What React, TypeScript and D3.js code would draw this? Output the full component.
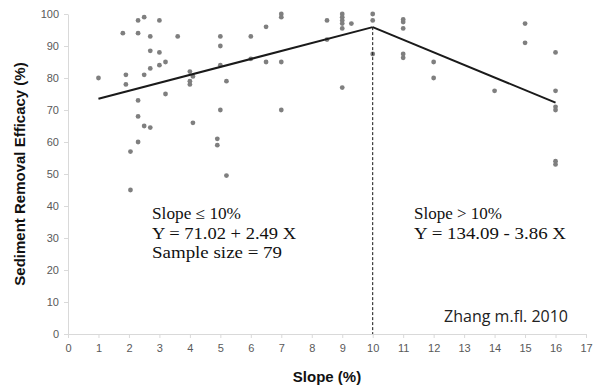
import React, { useEffect, useRef } from "react";
import * as d3 from "d3";

// Observed sites: slope (%) and sediment removal efficacy (%)
const slopes = [
  1, 1.8, 1.9, 1.9, 2.05, 2.05, 2.3, 2.3, 2.3, 2.3, 2.3, 2.5, 2.5, 2.5, 2.7, 2.7, 2.7, 2.7,
  3, 3, 3, 3.2, 3.2, 3.6, 4, 4, 4, 4.1, 4.1, 4.9, 4.9, 5, 5, 5, 5, 5.2, 5.2,
  6, 6, 6.5, 6.5, 7, 7, 7, 7, 8.5, 8.5, 9, 9, 9, 9, 9, 9, 9.3,
  10, 10, 10, 11, 11, 11, 11, 11, 12, 12, 14, 15, 15, 16, 16, 16, 16, 16, 16,
];
const efficacy = [
  80, 94, 81, 78, 57, 45, 98, 94, 73, 68, 60, 99, 81, 65, 93, 88.5, 83, 64.5,
  98, 88, 84, 85, 75, 93, 82, 79, 78, 80.5, 66, 61, 59, 93, 90, 84, 70, 79, 49.5,
  93, 86, 96, 85, 100, 99, 85, 70, 98, 92, 100, 99, 98, 97, 95.5, 77, 97,
  100, 98, 87.5, 98.3, 97.5, 95.5, 87.5, 86.3, 85, 80, 76, 97, 91, 88, 76, 71, 70, 54, 53,
];

// Piecewise regression lines (ends)
const fitLeft = [
  { x: 1, y: 73.5 },
  { x: 10, y: 95.9 },
];
const fitRight = [
  { x: 10, y: 95.9 },
  { x: 16, y: 72.3 },
];
const breakPoint = { x: 10, y: 95.9 };

const xTicks = d3.range(0, 18);
const yTicks = [0, 10, 20, 30, 40, 50, 60, 70, 80, 90, 100];

const leftNote = ["Slope \u2264 10%", "Y = 71.02 + 2.49 X", "Sample size = 79"];
const rightNote = ["Slope > 10%", "Y = 134.09 - 3.86  X"];

const ScatterChart = () => {
  const svgRef = useRef<SVGSVGElement>(null);

  useEffect(() => {
    const svg = d3.select(svgRef.current);
    svg.selectAll("*").remove();

    const width = 602;
    const height = 388;
    const margin = { top: 14, right: 16, bottom: 54, left: 68 };

    const x = d3.scaleLinear().domain([0, 17]).range([margin.left, width - margin.right]);
    const y = d3.scaleLinear().domain([0, 100]).range([height - margin.bottom, margin.top]);

    const axisColor = "#d9d9d9";
    const labelColor = "#595959";
    const sans = "'Liberation Sans', Arial, sans-serif";

    // x axis
    const gx = svg
      .append("g")
      .attr("transform", `translate(0,${y(0)})`)
      .call(d3.axisBottom(x).tickValues(xTicks).tickSize(4).tickPadding(6).tickSizeOuter(0));
    gx.select(".domain").attr("stroke", axisColor);
    gx.selectAll("line").attr("stroke", axisColor);
    gx.selectAll("text")
      .attr("fill", labelColor)
      .style("font-family", sans)
      .style("font-size", "11px");

    // y axis
    const gy = svg
      .append("g")
      .attr("transform", `translate(${x(0)},0)`)
      .call(d3.axisLeft(y).tickValues(yTicks).tickSize(4).tickPadding(5).tickSizeOuter(0));
    gy.select(".domain").attr("stroke", axisColor);
    gy.selectAll("line").attr("stroke", axisColor);
    gy.selectAll("text")
      .attr("fill", labelColor)
      .style("font-family", sans)
      .style("font-size", "11px");

    // axis titles
    svg
      .append("text")
      .attr("x", x(8.5))
      .attr("y", 382)
      .attr("text-anchor", "middle")
      .style("font-family", sans)
      .style("font-weight", "bold")
      .style("font-size", "15px")
      .attr("fill", "#111")
      .text("Slope (%)");

    svg
      .append("text")
      .attr("transform", `translate(25,${y(50)}) rotate(-90)`)
      .attr("text-anchor", "middle")
      .style("font-family", sans)
      .style("font-weight", "bold")
      .style("font-size", "15px")
      .attr("fill", "#111")
      .text("Sediment Removal Efficacy (%)");

    // points
    svg
      .append("g")
      .selectAll("circle")
      .data(slopes)
      .enter()
      .append("circle")
      .attr("cx", (d) => x(d))
      .attr("cy", (d, i) => y(efficacy[i]))
      .attr("r", 2.4)
      .attr("fill", "#7f7f7f");

    // dashed break line
    svg
      .append("line")
      .attr("x1", x(breakPoint.x))
      .attr("x2", x(breakPoint.x))
      .attr("y1", y(breakPoint.y))
      .attr("y2", y(0))
      .attr("stroke", "#111")
      .attr("stroke-width", 1)
      .attr("stroke-dasharray", "3,2");

    // regression lines
    const line = d3
      .line<{ x: number; y: number }>()
      .x((d) => x(d.x))
      .y((d) => y(d.y));
    [fitLeft, fitRight].forEach((seg) => {
      svg
        .append("path")
        .attr("d", line(seg))
        .attr("fill", "none")
        .attr("stroke", "#1a1a1a")
        .attr("stroke-width", 2);
    });

    // annotations
    const serif = "'Liberation Serif', 'Times New Roman', serif";
    const noteWidthsLeft = [89, 144, 130];
    leftNote.forEach((t, i) => {
      svg
        .append("text")
        .attr("x", 152)
        .attr("y", 219 + i * 19.5)
        .attr("textLength", noteWidthsLeft[i])
        .attr("lengthAdjust", "spacingAndGlyphs")
        .style("font-family", serif)
        .style("font-size", "16px")
        .attr("fill", "#111")
        .text(t);
    });
    const noteWidthsRight = [88, 152];
    rightNote.forEach((t, i) => {
      svg
        .append("text")
        .attr("x", 414)
        .attr("y", 219 + i * 19.5)
        .attr("textLength", noteWidthsRight[i])
        .attr("lengthAdjust", "spacingAndGlyphs")
        .style("font-family", serif)
        .style("font-size", "16px")
        .attr("fill", "#111")
        .text(t);
    });

    svg
      .append("text")
      .attr("x", 568)
      .attr("y", 322)
      .attr("text-anchor", "end")
      .style("font-family", "'Open Sans', 'Noto Sans', sans-serif")
      .style("font-size", "16px")
      .attr("fill", "#222")
      .text("Zhang m.fl. 2010");
  }, []);

  return (
    <svg
      ref={svgRef}
      width={602}
      height={388}
      style={{ position: "absolute", left: 0, top: 0, background: "#fff" }}
    ></svg>
  );
};

export default function App() {
  return <ScatterChart />;
}
